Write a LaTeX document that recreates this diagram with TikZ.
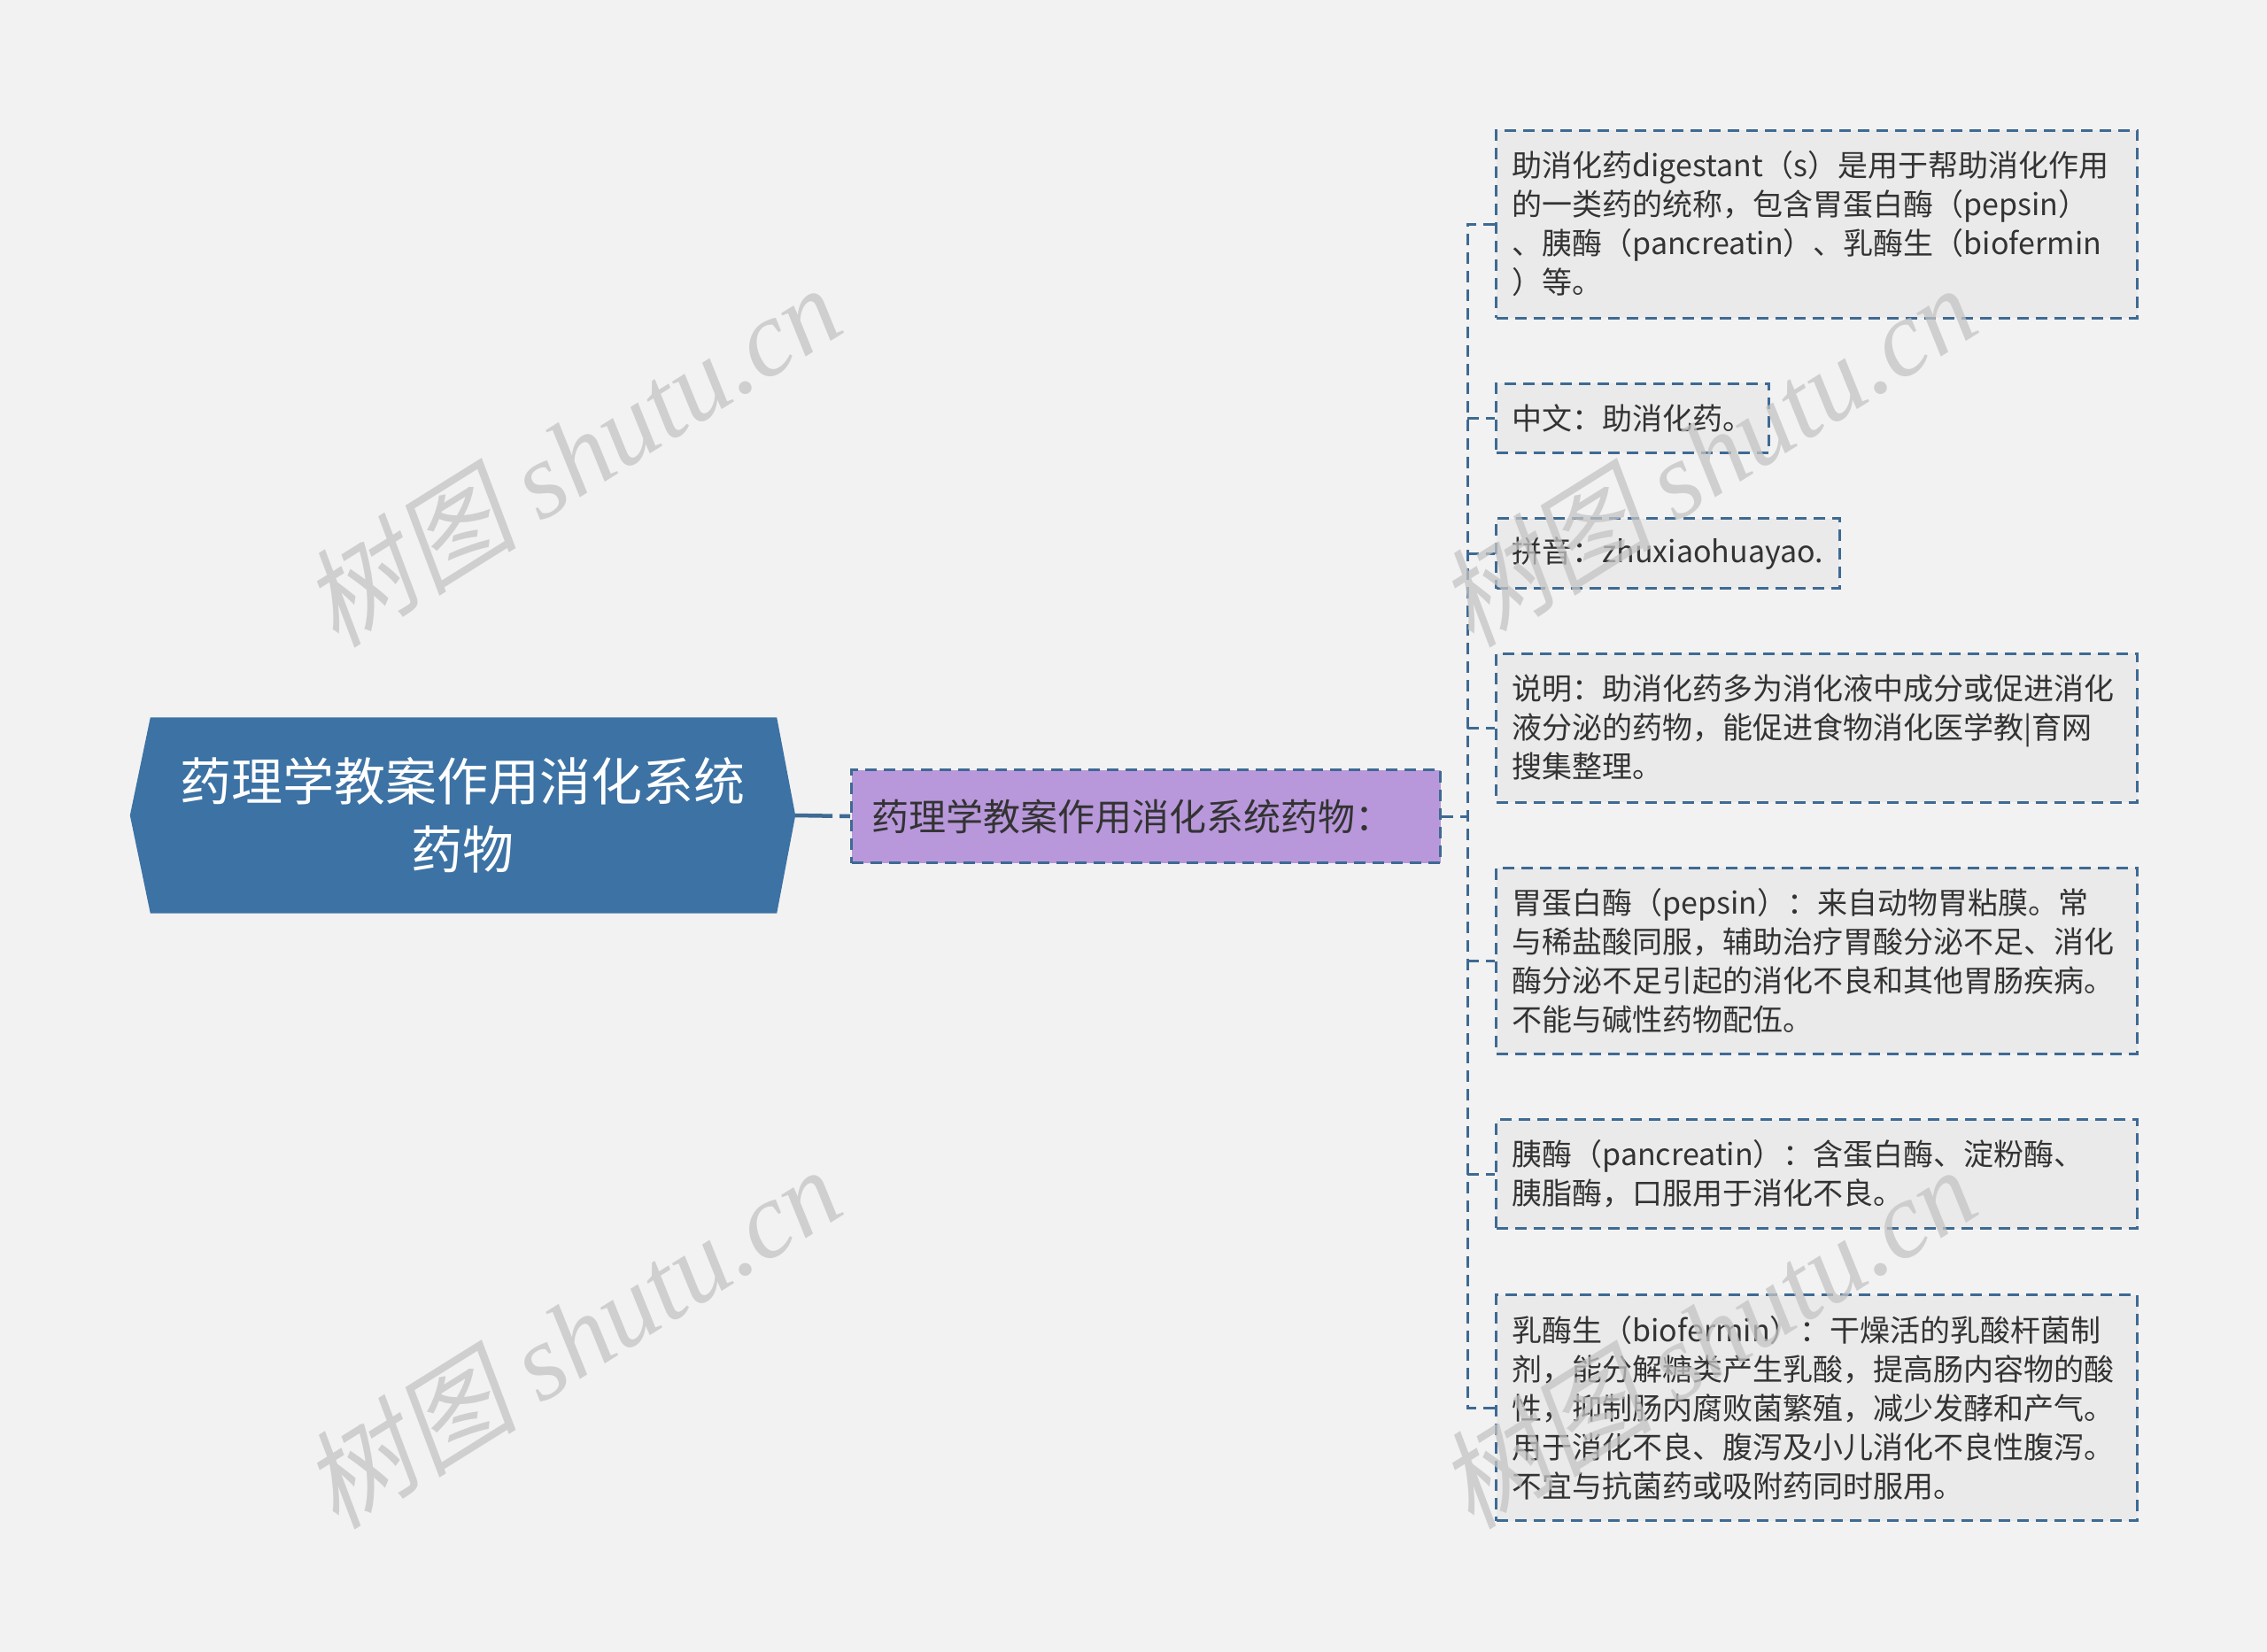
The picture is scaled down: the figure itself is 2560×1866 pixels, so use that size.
\documentclass[tikz,border=0pt]{standalone}
\usepackage{fontspec}
\setmainfont{Noto Sans CJK SC}
\newfontfamily\wmcjk[FakeSlant=0.2]{Noto Sans CJK SC}
\newfontfamily\wmserif{Liberation Serif}
\definecolor{bg}{HTML}{F2F2F2}
\definecolor{rootblue}{HTML}{3C72A4}
\definecolor{lineblue}{HTML}{3E6A93}
\definecolor{lav}{HTML}{B898DB}
\definecolor{leaf}{HTML}{EAEAEA}
\definecolor{txt}{HTML}{333333}
\definecolor{wm}{HTML}{C4C4C4}
\begin{document}
\begin{tikzpicture}[x=1pt,y=-1pt,
  leafbox/.style={draw=lineblue, line width=3pt, dash pattern=on 13pt off 8pt,
    fill=leaf, anchor=west, align=left, inner xsep=18pt, inner ysep=0pt,
    font=\fontsize{34}{44}\selectfont, text=txt},
  midbox/.style={draw=lineblue, line width=3pt, dash pattern=on 13pt off 8pt,
    fill=lav, anchor=west, align=left, inner xsep=23pt, inner ysep=0pt,
    text width=619pt, minimum height=105pt,
    font=\fontsize{42}{50}\selectfont, text=txt},
  dline/.style={draw=lineblue, line width=3pt, dash pattern=on 13pt off 8pt},
  rootline/.style={draw=lineblue, line width=4.5pt, dash pattern=on 42pt off 8pt},
  wmark/.style={text=wm, opacity=0.75, rotate=32, font=\fontsize{122}{130}\selectfont}
]
\fill[bg] (0,0) rectangle (2560,1866);
\useasboundingbox (0,0) rectangle (2560,1866);

% root
\node[minimum width=751pt, minimum height=221pt, inner sep=0pt] (root) at (522.5,921) {};
\fill[rootblue] (root.west) -- ([xshift=23pt]root.north west) -- ([xshift=-21pt]root.north east)
  -- (root.east) -- ([xshift=-21pt]root.south east) -- ([xshift=23pt]root.south west) -- cycle;
\node[text=white, align=center, font=\fontsize{58}{77}\selectfont] (roottext) at (root.center)
  {药理学教案作用消化系统\\药物};

% middle
\node[midbox] (mid) at (960,922) {药理学教案作用消化系统药物：};

% leaves
\node[leafbox, text width=688pt, minimum height=212pt] (l1) at (1688,253)
  {助消化药digestant（s）是用于帮助消化作用\\的一类药的统称，包含胃蛋白酶（pepsin）\\、胰酶（pancreatin）、乳酶生（biofermin\\）等。};
\node[leafbox, minimum height=78pt] (l2) at (1688,472) {中文：助消化药。};
\node[leafbox, minimum height=79pt] (l3) at (1688,625) {拼音：zhuxiaohuayao.};
\node[leafbox, text width=688pt, minimum height=168pt] (l4) at (1688,822)
  {说明：助消化药多为消化液中成分或促进消化\\液分泌的药物，能促进食物消化医学教|育网\\搜集整理。};
\node[leafbox, text width=688pt, minimum height=210pt] (l5) at (1688,1085)
  {胃蛋白酶（pepsin）：来自动物胃粘膜。常\\与稀盐酸同服，辅助治疗胃酸分泌不足、消化\\酶分泌不足引起的消化不良和其他胃肠疾病。\\不能与碱性药物配伍。};
\node[leafbox, text width=688pt, minimum height=123pt] (l6) at (1688,1326)
  {胰酶（pancreatin）：含蛋白酶、淀粉酶、\\胰脂酶，口服用于消化不良。};
\node[leafbox, text width=688pt, minimum height=255pt] (l7) at (1688,1590)
  {乳酶生（biofermin）：干燥活的乳酸杆菌制\\剂，能分解糖类产生乳酸，提高肠内容物的酸\\性，抑制肠内腐败菌繁殖，减少发酵和产气。\\用于消化不良、腹泻及小儿消化不良性腹泻。\\不宜与抗菌药或吸附药同时服用。};

% connectors
\coordinate (trunk) at (1657,922);
\draw[rootline] (root.east) -- (mid.west);
\draw[dline] (mid.east) -- (trunk);
\draw[dline] (l1.west) -- (l1.west -| trunk) -- (l7.west -| trunk) -- (l7.west);
\foreach \n in {l2,l3,l4,l5,l6} \draw[dline] (trunk |- \n.west) -- (\n.west);

% watermarks
\foreach \p/\q in {645/514, 645/1510, 1927/514, 1927/1510}
  \node[wmark] at (\p,\q) {{\wmcjk 树图} {\wmserif\itshape shutu.cn}};
\end{tikzpicture}
\end{document}
